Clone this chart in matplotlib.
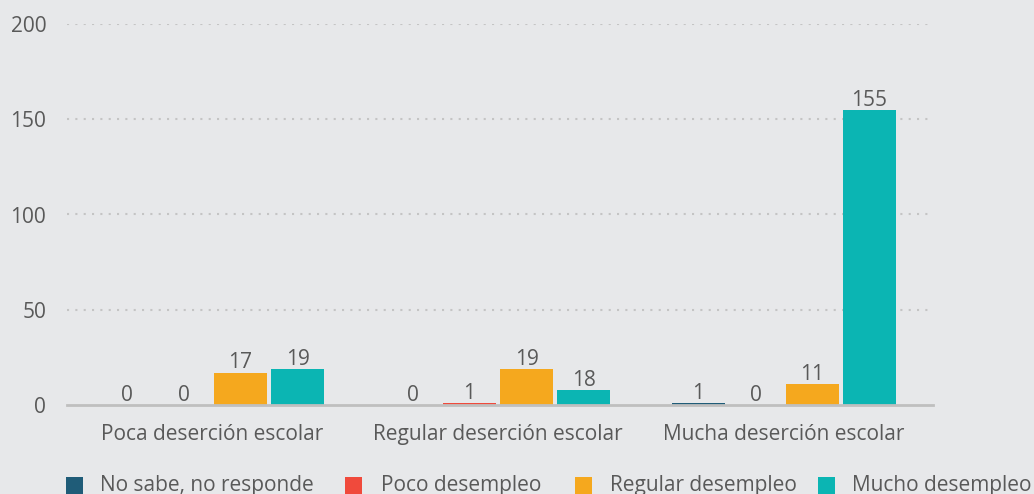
import matplotlib
matplotlib.use("Agg")
import matplotlib.pyplot as plt
import numpy as np
from matplotlib.patches import Rectangle

plt.rcParams['font.family'] = ['Open Sans', 'DejaVu Sans']

categories = ["Poca deserción escolar", "Regular deserción escolar", "Mucha deserción escolar"]
series_names = ["No sabe, no responde", "Poco desempleo", "Regular desempleo", "Mucho desempleo"]
# bar heights as drawn in the reference
values = {
    "No sabe, no responde": [0, 0, 1],
    "Poco desempleo": [0, 1, 0],
    "Regular desempleo": [17, 19, 11],
    "Mucho desempleo": [19, 8, 155],
}
# labels as printed in the reference
labels = {
    "No sabe, no responde": ["0", "0", "1"],
    "Poco desempleo": ["0", "1", "0"],
    "Regular desempleo": ["17", "19", "11"],
    "Mucho desempleo": ["19", "18", "155"],
}
colors = ["#1F5C78", "#F04A3C", "#F5A81E", "#0BB5B3"]
yticks = [0, 50, 100, 150, 200]

bg = "#E7E8EA"
txt = "#595959"
fs = 15

W, H = 1034, 494
fig = plt.figure(figsize=(W/100, H/100), dpi=100, facecolor=bg)
ax = fig.add_axes([67/W, 1-405/H, (933-67)/W, (405-24)/H])
ax.set_facecolor(bg)

x = np.arange(len(categories))
step = 57/286
width = 53/286
offsets = [-1.5*step, -0.5*step, 0.5*step, 1.5*step]
for i, name in enumerate(series_names):
    bars = ax.bar(x + offsets[i], values[name], width, color=colors[i], zorder=3)
    for b, lab in zip(bars, labels[name]):
        ax.text(b.get_x() + b.get_width()/2, b.get_height() + 2.2, lab,
                ha='center', va='baseline', fontsize=fs, color=txt, zorder=4)

ax.set_xlim(-145/286, 2 + 149/286)
ax.set_ylim(0, 200)
ax.set_yticks(yticks)
ax.set_yticklabels([str(t) for t in yticks], fontsize=fs, color=txt)
ax.set_xticks(x)
ax.set_xticklabels(categories, fontsize=fs, color=txt)
ax.tick_params(axis='both', length=0)
ax.tick_params(axis='y', pad=15)
ax.tick_params(axis='x', pad=14)
for s in ['top', 'right', 'left']:
    ax.spines[s].set_visible(False)
ax.spines['bottom'].set_color('#BFBFBF')
ax.spines['bottom'].set_linewidth(2)
ax.spines['bottom'].set_zorder(5)
for t in yticks[1:]:
    ax.axhline(t, color='#C4C4C4', linestyle=(0, (1, 3)), linewidth=1.5, zorder=1)

# manual legend
leg_y = 485
sq = 17
leg_x = [66, 345, 575, 818]
text_x = [100, 381, 610, 852]
for c, name, lx, tx in zip(colors, series_names, leg_x, text_x):
    fig.patches.append(Rectangle((lx/W, 1-(leg_y+sq/2)/H), sq/W, sq/H,
                                 transform=fig.transFigure, facecolor=c, edgecolor='none'))
    fig.text(tx/W, 1-leg_y/H, name, ha='left', va='center', fontsize=fs, color=txt)

fig.savefig("out.png", dpi=100, facecolor=bg)
